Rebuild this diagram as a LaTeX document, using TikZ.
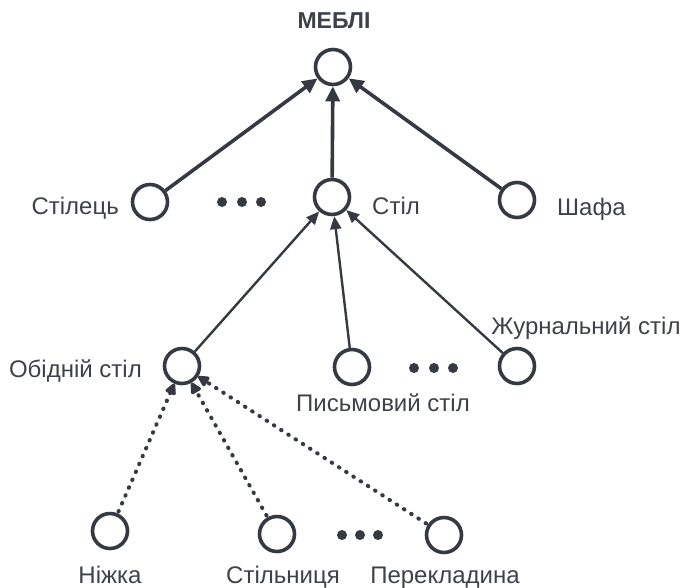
\documentclass[tikz,border=0pt]{standalone}
\usepackage{fontspec}
\setmainfont{Liberation Sans}
\usetikzlibrary{arrows.meta}
\definecolor{ink}{HTML}{353A42}
\definecolor{txt}{HTML}{3E4248}
\begin{document}
\begin{tikzpicture}[x=1pt,y=-1pt,
  vertex/.style={circle,draw=ink,line width=3.6pt,minimum size=35pt,inner sep=0pt,fill=white},
  lbl/.style={text=txt,font=\fontsize{24}{28}\selectfont,inner sep=0pt,anchor=base},
  dotnode/.style={circle,fill=ink,minimum size=10pt,inner sep=0pt},
  strong/.style={draw=ink,line width=3.6pt,-{Triangle[length=15pt,width=14pt]}},
  plain/.style={draw=ink,line width=2.4pt,-{Triangle[length=13pt,width=11pt]}},
  weak/.style={draw=ink,line width=4pt,line cap=round,dash pattern=on 0.6pt off 8pt,
    shorten <=2pt,-{Triangle[length=13pt,width=12pt,round]}}]
\useasboundingbox (0,0) rectangle (687,587);
% tree nodes
\node[vertex] (root)  at (333,67)  {};
\node[vertex] (chair) at (150,202) {};
\node[vertex] (table) at (332,197) {};
\node[vertex] (wardr) at (517,200) {};
\node[vertex] (dine)  at (182,366) {};
\node[vertex] (desk)  at (352,367) {};
\node[vertex] (coffee) at (517,366) {};
\node[vertex] (leg)   at (110,531) {};
\node[vertex] (top)   at (277,534) {};
\node[vertex] (rail)  at (444,535) {};
% labels
\node[lbl,font=\bfseries\fontsize{23}{27}\selectfont] (tRoot) at (334,28) {МЕБЛІ};
\node[lbl,anchor=base east] (tChair) at (119,214) {Стілець};
\node[lbl,anchor=base west] (tTable) at (372,214) {Стіл};
\node[lbl,anchor=base west] (tWardr) at (557,215) {Шафа};
\node[lbl,anchor=base east] (tDine) at (142,377) {Обідній стіл};
\node[lbl] (tDesk) at (383,411) {Письмовий стіл};
\node[lbl] (tCoffee) at (586,334) {Журнальний стіл};
\node[lbl] (tLeg) at (110,583) {Ніжка};
\node[lbl] (tTop) at (283,583) {Стільниця};
\node[lbl] (tRail) at (445,583) {Перекладина};
% ellipsis dots
\foreach \i/\x in {1/222,2/242,3/261} \node[dotnode] (da\i) at (\x,202) {};
\foreach \i/\x in {1/414,2/434,3/453} \node[dotnode] (db\i) at (\x,368) {};
\foreach \i/\x in {1/342,2/360,3/378} \node[dotnode] (dc\i) at (\x,535) {};
% connectors
\draw[strong] (chair) -- (root);
\draw[strong] (table) -- (root);
\draw[strong] (wardr) -- (root);
\draw[plain] (dine) -- (table);
\draw[plain] (desk) -- (table);
\draw[plain] (coffee) -- (table);
\draw[weak] (leg) -- (dine);
\draw[weak] (top) -- (dine);
\draw[weak] (rail) -- (dine);
\end{tikzpicture}
\end{document}
